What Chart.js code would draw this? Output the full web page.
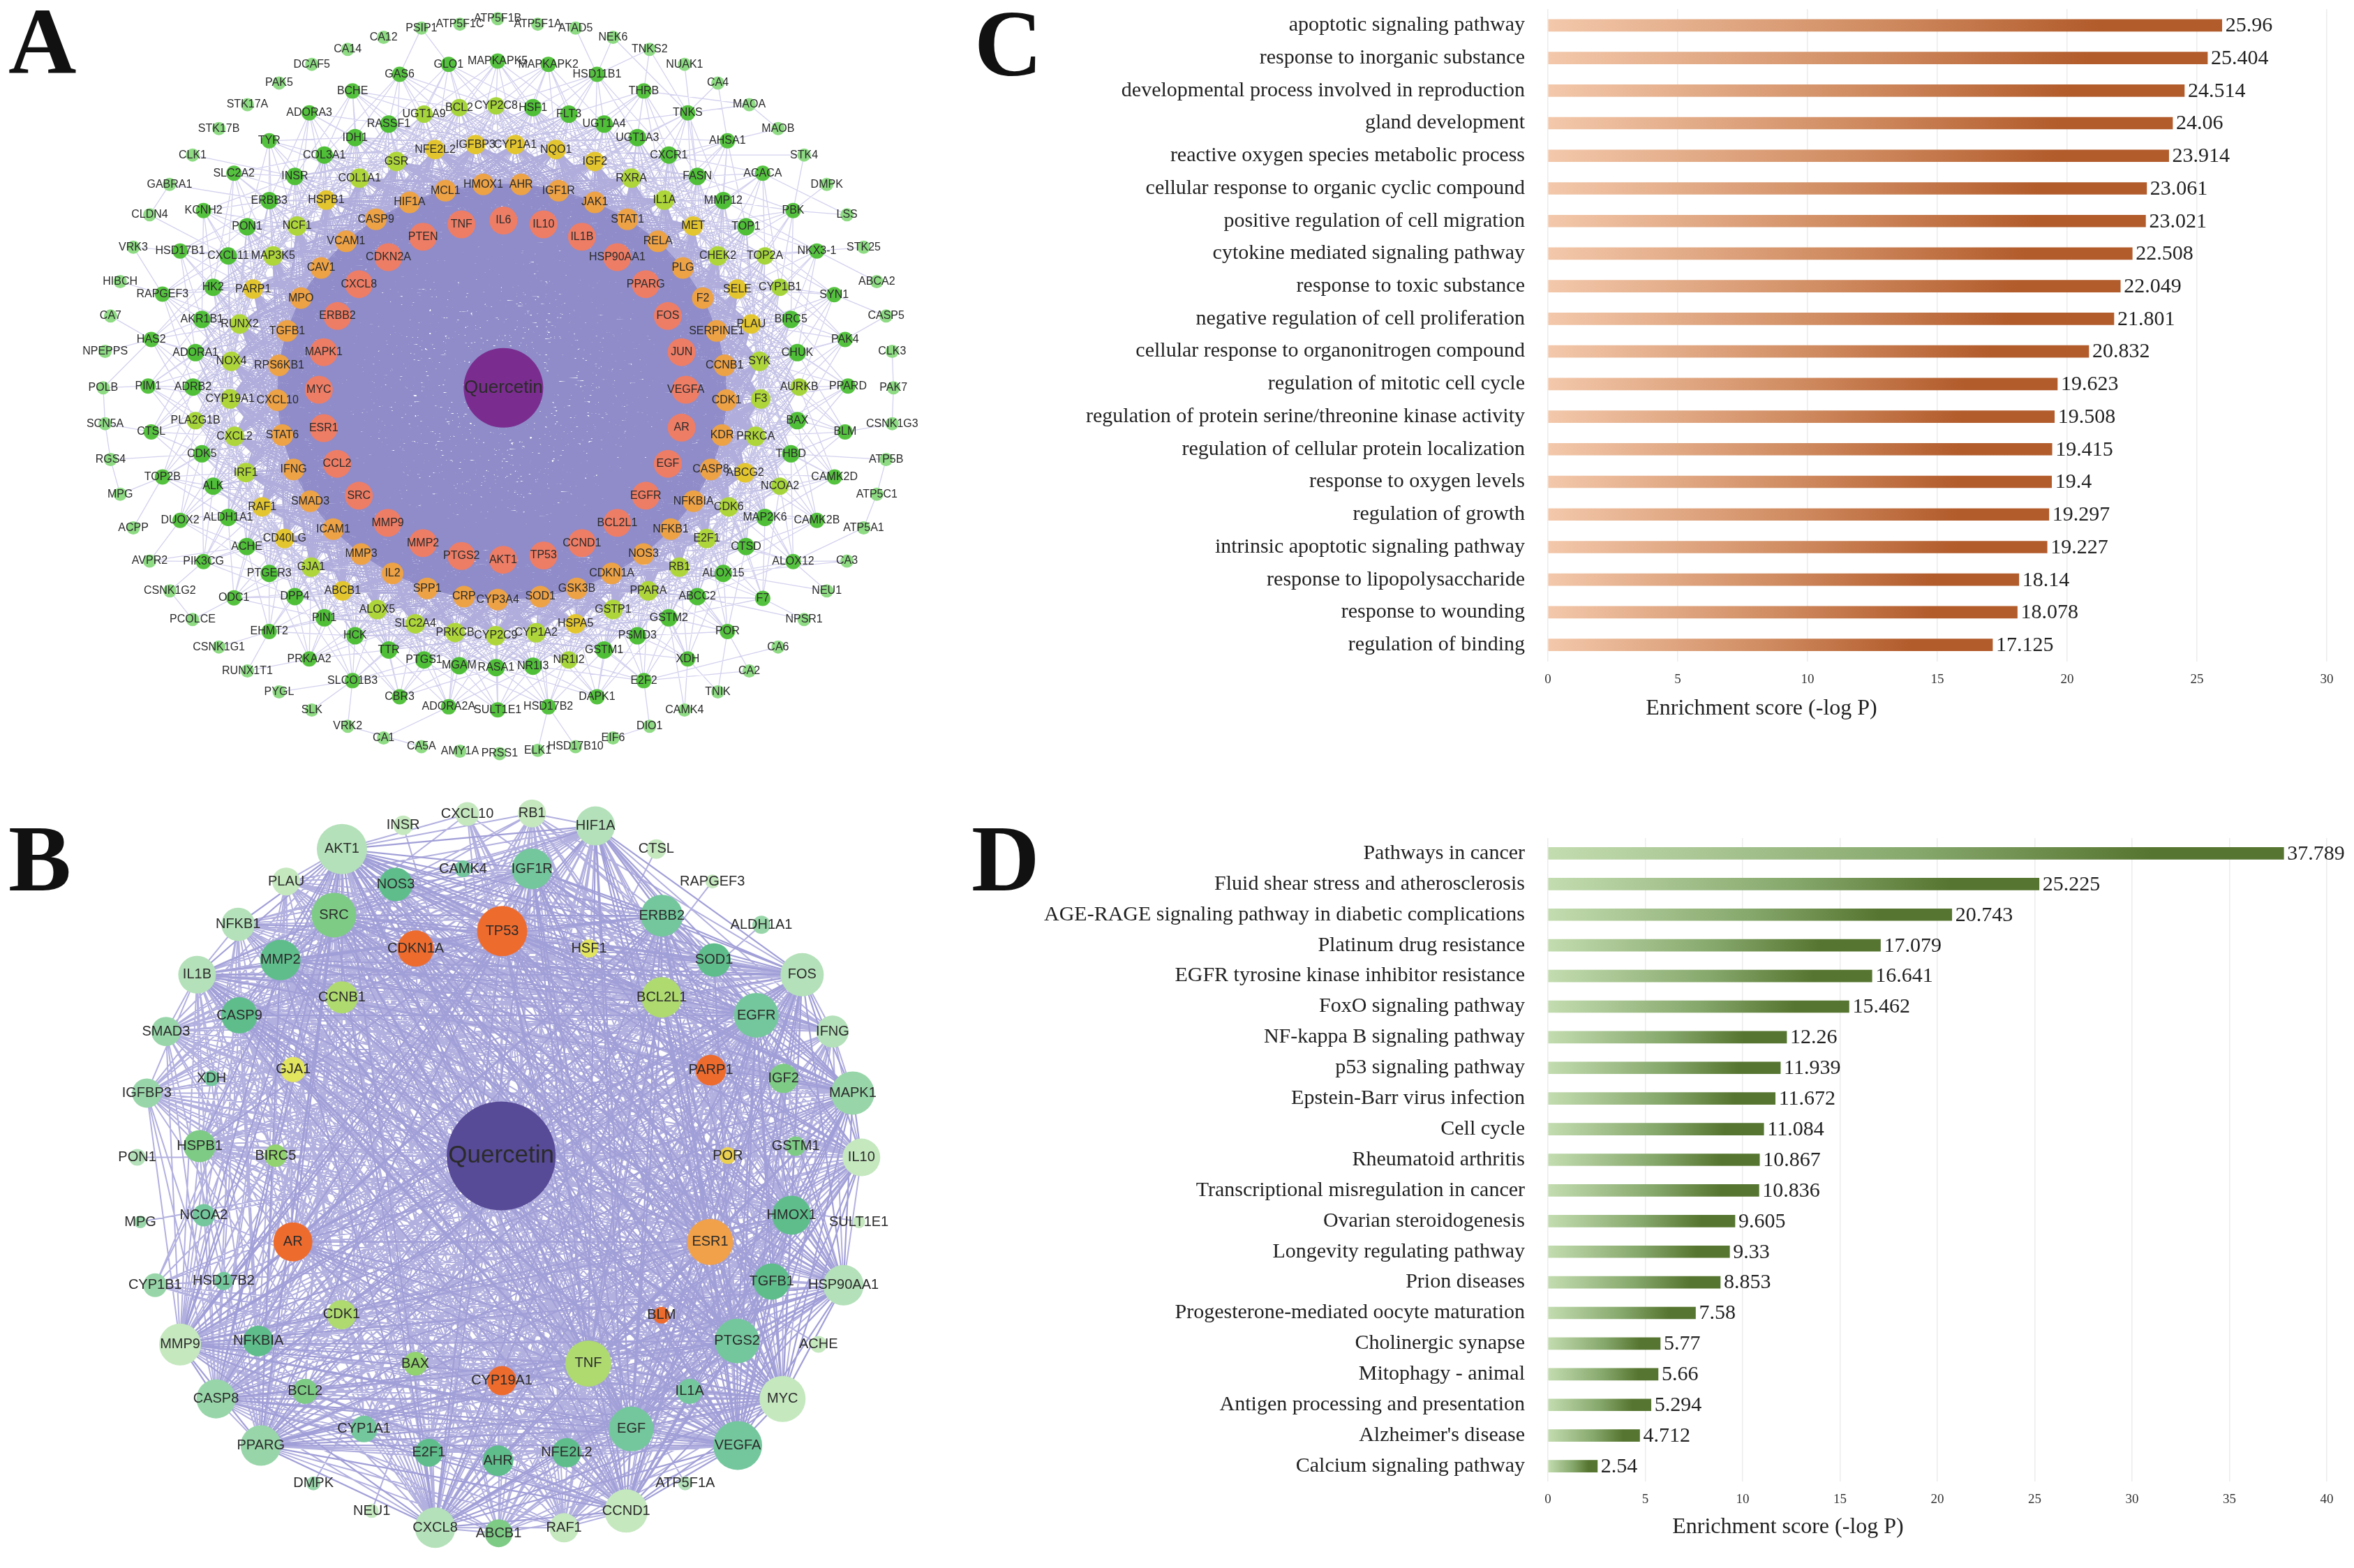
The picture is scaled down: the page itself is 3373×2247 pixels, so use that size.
<!DOCTYPE html>
<html>
<head>
<meta charset="utf-8">
<title>Quercetin network and enrichment</title>
<script src="https://cdn.jsdelivr.net/npm/chart.js@4"></script>
<style>
  html, body { margin: 0; background: #fff; }
  #page { position: relative; width: 3373px; height: 2247px; overflow: hidden; background: #fff; }
  canvas { position: absolute; filter: blur(0.7px); }
  .tag { position: absolute; font: bold 135px/1 "Liberation Serif", serif; color: #111; z-index: 5; }
</style>
</head>
<body>
<div id="page">
  <canvas id="netA" width="1440" height="1120" style="left:0;top:0"></canvas>
  <canvas id="netB" width="1440" height="1117" style="left:0;top:1130px"></canvas>
  <canvas id="barC" width="1993" height="1060" style="left:1380px;top:0"></canvas>
  <canvas id="barD" width="1993" height="1087" style="left:1380px;top:1160px"></canvas>
  <div class="tag" style="left:12px;top:-8px">A</div>
  <div class="tag" style="left:12px;top:1163px">B</div>
  <div class="tag" style="left:1396px;top:-5px">C</div>
  <div class="tag" style="left:1392px;top:1163px">D</div>
</div>
<script>
// network A, one list per ring: [gene, layout x, layout y]
const aPale = [['PSIP1',1315,113],['ATP5F1C',1435,97],['ATP5F1B',1553,75],['CA12',1197,150],['CA14',1085,198],['DCAF5',973,258],['PAK5',871,333],['STK17A',772,420],['STK17B',683,516],['CLK1',601,622],['GABRA1',529,740],['CLDN4',467,862],['VRK3',416,992],['HIBCH',375,1130],['CA7',345,1268],['NPEPPS',328,1410],['POLB',322,1556],['SCN5A',328,1700],['RGS4',345,1844],['MPG',375,1983],['ACPP',416,2118],['AVPR2',467,2251],['CSNK1G2',530,2371],['PCOLCE',601,2486],['CSNK1G1',683,2596],['RUNX1T1',772,2692],['PYGL',871,2776],['SLK',973,2849],['VRK2',1085,2914],['CA1',1197,2961],['CA5A',1315,2996],['AMY1A',1435,3014],['PRSS1',1559,3024],['ELK1',1678,3011],['HSD17B10',1796,2996],['EIF6',1913,2961],['DIO1',2027,2914],['CAMK4',2136,2849],['TNIK',2240,2776],['CA2',2338,2692],['CA6',2428,2596],['NPSR1',2509,2486],['NEU1',2580,2371],['CA3',2643,2251],['ATP5A1',2695,2118],['ATP5C1',2736,1983],['ATP5B',2765,1844],['CSNK1G3',2784,1700],['PAK7',2788,1556],['CLK3',2784,1410],['CASP5',2765,1268],['ABCA2',2736,1130],['STK25',2695,992],['LSS',2643,862],['DMPK',2580,740],['STK4',2509,622],['MAOB',2428,516],['MAOA',2338,420],['CA4',2240,333],['NUAK1',2136,258],['TNKS2',2027,198],['NEK6',1913,150],['ATAD5',1796,113],['ATP5F1A',1678,97]];
const aOuter = [['GLO1',1400,258],['MAPKAPK5',1553,245],['GAS6',1247,298],['BCHE',1100,365],['ADORA3',965,453],['TYR',840,565],['SLC2A2',730,695],['KCNH2',635,845],['HSD17B1',562,1007],['RAPGEF3',507,1180],['HAS2',472,1362],['PIM1',462,1549],['CTSL',472,1733],['TOP2B',507,1914],['DUOX2',562,2088],['PIK3CG',635,2253],['ODC1',730,2399],['EHMT2',840,2534],['PRKAA2',965,2644],['SLCO1B3',1100,2731],['CBR3',1247,2796],['ADORA2A',1400,2836],['SULT1E1',1553,2848],['HSD17B2',1711,2836],['DAPK1',1863,2796],['E2F2',2009,2731],['XDH',2146,2644],['POR',2270,2534],['F7',2380,2401],['ALOX12',2475,2253],['CAMK2B',2549,2088],['CAMK2D',2604,1914],['BLM',2637,1733],['PPARD',2646,1549],['PAK4',2637,1362],['SYN1',2603,1182],['NKX3-1',2549,1007],['PBK',2475,845],['ACACA',2380,695],['AHSA1',2270,565],['TNKS',2146,453],['THRB',2009,365],['HSD11B1',1863,298],['MAPKAPK2',1711,258]];
const aGreen = [['RASSF1',1213,498],['IDH1',1108,552],['COL3A1',1012,622],['INSR',920,708],['ERBB3',840,805],['PON1',771,910],['CXCL11',712,1027],['HK2',665,1153],['AKR1B1',630,1282],['ADORA1',610,1415],['ADRB2',602,1553],['CDK5',630,1821],['ALK',665,1951],['ALDH1A1',712,2076],['ACHE',770,2193],['PTGER3',840,2301],['DPP4',920,2394],['PIN1',1012,2479],['HCK',1108,2551],['TTR',1213,2608],['PTGS1',1323,2648],['MGAM',1433,2671],['RASA1',1548,2679],['NR1I3',1663,2673],['GSTM1',1885,2608],['PSMD3',1989,2551],['GSTM2',2087,2479],['ABCC2',2176,2394],['ALOX15',2257,2301],['CTSD',2328,2193],['MAP2K6',2387,2076],['THBD',2468,1821],['BAX',2488,1688],['CHUK',2488,1415],['BIRC5',2468,1282],['TOP1',2328,910],['MMP12',2257,805],['FASN',2176,708],['CXCR1',2087,622],['UGT1A3',1989,552],['UGT1A4',1885,498],['FLT3',1775,458],['HSF1',1663,432]];
const aLimeOuter = [['BCL2',1433,432],['CYP2C8',1548,425],['UGT1A9',1323,458],['PLA2G1B',610,1688],['NR1I2',1775,2648],['NCOA2',2434,1951],['AURKB',2494,1553],['CYP1B1',2434,1153],['TOP2A',2387,1027]];
const aLime = [['GSR',1237,648],['COL1A1',1122,715],['NCF1',927,907],['MAP3K5',852,1027],['RUNX2',748,1300],['NOX4',722,1450],['CYP19A1',718,1601],['CXCL2',732,1751],['IRF1',767,1896],['GJA1',971,2276],['ALOX5',1177,2446],['SLC2A4',1296,2503],['PRKCB',1420,2538],['CYP2C9',1547,2551],['CYP1A2',1673,2539],['GSTP1',1913,2446],['PPARA',2023,2371],['RB1',2120,2276],['E2F1',2205,2161],['CDK6',2274,2034],['PRKCA',2358,1751],['F3',2374,1601],['SYK',2370,1450],['CHEK2',2240,1027],['IL1A',2073,803],['RXRA',1970,715]];
const aYellow = [['IGFBP3',1484,580],['NFE2L2',1358,600],['HSPB1',1018,803],['PARP1',790,1160],['RAF1',818,2034],['CD40LG',888,2161],['ABCB1',1069,2371],['HSPA5',1796,2503],['ABCG2',2325,1897],['PLAU',2344,1300],['SELE',2301,1160],['MET',2163,907],['IGF2',1856,648],['NQO1',1735,600],['CYP1A1',1608,580]];
const aOrange = [['HMOX1',1508,740],['MCL1',1390,765],['HIF1A',1278,812],['CASP9',1173,880],['VCAM1',1080,968],['CAV1',1002,1075],['MPO',939,1196],['TGFB1',896,1328],['RPS6KB1',871,1466],['CXCL10',866,1606],['STAT6',881,1746],['IFNG',916,1884],['SMAD3',968,2011],['ICAM1',1040,2123],['MMP3',1127,2223],['IL2',1225,2301],['SPP1',1333,2361],['CRP',1448,2394],['CYP3A4',1553,2406],['SOD1',1686,2394],['GSK3B',1800,2361],['CDKN1A',1909,2301],['NOS3',2008,2223],['NFKB1',2093,2123],['NFKBIA',2164,2011],['CASP8',2218,1884],['KDR',2253,1746],['CDK1',2267,1606],['CCNB1',2261,1466],['SERPINE1',2236,1328],['F2',2193,1196],['PLG',2131,1075],['RELA',2053,968],['STAT1',1958,880],['JAK1',1856,812],['IGF1R',1743,765],['AHR',1626,740]];
const aRed = [['TNF',1440,900],['IL6',1571,885],['PTEN',1320,950],['CDKN2A',1212,1032],['CXCL8',1120,1140],['ERBB2',1053,1268],['MAPK1',1010,1413],['MYC',995,1564],['ESR1',1010,1718],['CCL2',1052,1861],['SRC',1120,1989],['MMP9',1210,2098],['MMP2',1320,2179],['PTGS2',1440,2231],['AKT1',1570,2246],['TP53',1696,2229],['CCND1',1816,2179],['BCL2L1',1926,2098],['EGFR',2015,1989],['EGF',2084,1861],['AR',2127,1716],['VEGFA',2140,1564],['JUN',2127,1413],['FOS',2084,1268],['PPARG',2015,1140],['HSP90AA1',1926,1032],['IL1B',1816,950],['IL10',1696,900]];
const aHub = [['Quercetin',1571,1556]];
// the few links that can be followed by eye around the outer ring
const aPaleLinks = [['PSIP1','GAS6'],['PSIP1','GLO1'],['ATAD5','HSD11B1'],['NEK6','HSD11B1'],['TNKS2','HSD11B1'],['TNKS2','THRB'],['TNKS2','TNKS'],['NEK6','TNKS'],['NUAK1','FASN'],['CA4','TNKS'],['CA4','AHSA1'],['MAOA','THRB'],['MAOA','TNKS'],['MAOB','AHSA1'],['MAOB','MAOA'],['STK4','CXCR1'],['STK4','PBK'],['DMPK','PBK'],['LSS','ACACA'],['LSS','PBK'],['STK25','NKX3-1'],['ABCA2','NKX3-1'],['CASP5','SYN1'],['CASP5','PAK4'],['CLK3','PAK7'],['PAK7','CSNK1G3'],['CSNK1G3','BLM'],['ATP5B','THBD'],['ATP5B','ATP5C1'],['ATP5C1','ATP5A1'],['ATP5A1','ALOX12'],['CA3','ALOX12'],['CA3','ALOX15'],['NEU1','ALOX12'],['NEU1','ALOX15'],['NPSR1','ABCC2'],['NPSR1','F7'],['CA6','E2F2'],['CA2','POR'],['CA2','E2F2'],['TNIK','POR'],['TNIK','XDH'],['CAMK4','GSTM2'],['CAMK4','XDH'],['DIO1','E2F2'],['DIO1','EIF6'],['HSD17B10','HSD17B2'],['ELK1','HSD17B2'],['VRK2','SLCO1B3'],['SLK','SLCO1B3'],['PYGL','SLCO1B3'],['CA1','ADORA2A'],['CA5A','VRK2'],['CSNK1G1','EHMT2'],['RUNX1T1','EHMT2'],['RUNX1T1','PRKAA2'],['PCOLCE','ODC1'],['PCOLCE','CSNK1G2'],['CSNK1G2','PIK3CG'],['AVPR2','PIK3CG'],['AVPR2','ACHE'],['AVPR2','DUOX2'],['ACPP','TOP2B'],['MPG','RGS4'],['MPG','TOP2B'],['RGS4','SCN5A'],['RGS4','CDK5'],['SCN5A','POLB'],['SCN5A','CTSL'],['POLB','PIM1'],['POLB','HAS2'],['NPEPPS','HAS2'],['CA7','HAS2'],['HIBCH','RAPGEF3'],['VRK3','HSD17B1'],['VRK3','RAPGEF3'],['CLDN4','GABRA1'],['CLDN4','CXCL11'],['GABRA1','ERBB3'],['CLK1','INSR']];

// network B, one list per colour: [gene, layout x, layout y, degree]
const bOrange = [['CDKN1A',1297,642,26],['TP53',1567,572,36],['PARP1',2218,1130,22],['AR',914,1819,28],['BLM',2064,2113,12],['CYP19A1',1566,2376,21]];
const bAmber = [['ESR1',2216,1819,33]];
const bYellow = [['GJA1',915,1128,18],['HSF1',1838,642,13]];
const bGold = [['POR',2271,1473,12]];
const bLime = [['CCNB1',1067,838,23],['BCL2L1',2065,838,29],['CDK1',1066,2111,21],['TNF',1836,2307,33]];
const bLeaf = [['BIRC5',860,1473,16],['BAX',1296,2308,17]];
const bTeal = [['MMP2',875,688,29],['CASP9',747,910,26],['SOD1',2228,688,24],['HMOX1',2470,1712,28],['TGFB1',2408,1978,26],['NFKBIA',806,2217,22],['AHR',1554,2697,22],['E2F1',1338,2665,20],['NFE2L2',1768,2665,21],['NOS3',1235,385,24]];
const bSea = [['IGF1R',1660,322,29],['ERBB2',2065,510,30],['EGFR',2360,910,32],['EGF',1970,2570,32],['VEGFA',2302,2636,35],['PTGS2',2300,2217,32],['CAMK4',1445,322,12],['XDH',660,1163,11],['IL1A',2152,2419,18],['NCOA2',636,1712,16],['CYP1A1',1136,2570,19],['HSD17B2',698,1976,13]];
const bGreen = [['SRC',1042,508,32],['HSPB1',623,1435,23],['IGF2',2445,1163,21],['BCL2',952,2419,18],['GSTM1',2483,1435,14],['ABCB1',1556,2988,20]];
const bMint = [['SMAD3',518,975,21],['IGFBP3',458,1222,21],['MAPK1',2661,1222,31],['CASP8',674,2449,28],['PPARG',814,2636,29],['CYP1B1',484,1993,17],['ALDH1A1',2376,547,13],['MPG',438,1739,9],['DMPK',978,2788,10]];
const bPale = [['AKT1',1067,243,36],['NFKB1',743,545,24],['IL1B',615,747,27],['HIF1A',1858,150,28],['FOS',2503,747,31],['IFNG',2598,975,23],['CXCL8',1358,2966,29],['HSP90AA1',2632,1993,29],['ATP5F1A',2138,2788,10],['PON1',428,1480,12]];
const bFaint = [['INSR',1258,148,14],['CXCL10',1458,102,17],['PLAU',893,373,20],['RB1',1660,100,20],['CTSL',2048,243,14],['RAPGEF3',2223,373,10],['IL10',2688,1480,27],['MMP9',562,2231,30],['MYC',2442,2449,33],['CCND1',1954,2899,31],['RAF1',1760,2966,21],['SULT1E1',2680,1739,9],['ACHE',2554,2230,12],['NEU1',1160,2899,10]];
const bHub = [['Quercetin',1564,1474,78]];

// panel C
const cTerms = ['apoptotic signaling pathway','response to inorganic substance','developmental process involved in reproduction','gland development','reactive oxygen species metabolic process','cellular response to organic cyclic compound','positive regulation of cell migration','cytokine mediated signaling pathway','response to toxic substance','negative regulation of cell proliferation','cellular response to organonitrogen compound','regulation of mitotic cell cycle','regulation of protein serine/threonine kinase activity','regulation of cellular protein localization','response to oxygen levels','regulation of growth','intrinsic apoptotic signaling pathway','response to lipopolysaccharide','response to wounding','regulation of binding'];
const cScores = [25.96,25.404,24.514,24.06,23.914,23.061,23.021,22.508,22.049,21.801,20.832,19.623,19.508,19.415,19.4,19.297,19.227,18.14,18.078,17.125];

// panel D
const dTerms = ['Pathways in cancer','Fluid shear stress and atherosclerosis','AGE-RAGE signaling pathway in diabetic complications','Platinum drug resistance','EGFR tyrosine kinase inhibitor resistance','FoxO signaling pathway','NF-kappa B signaling pathway','p53 signaling pathway','Epstein-Barr virus infection','Cell cycle','Rheumatoid arthritis','Transcriptional misregulation in cancer','Ovarian steroidogenesis','Longevity regulating pathway','Prion diseases','Progesterone-mediated oocyte maturation','Cholinergic synapse','Mitophagy - animal','Antigen processing and presentation',"Alzheimer's disease",'Calcium signaling pathway'];
const dScores = [37.789,25.225,20.743,17.079,16.641,15.462,12.26,11.939,11.672,11.084,10.867,10.836,9.605,9.33,8.853,7.58,5.77,5.66,5.294,4.712,2.54];

const axisTitle = 'Enrichment score (-log P)';

// layout units are 2.178 per px across and 2.8 per px down
const UX = 2.178, UY = 2.8;

const labelPlugin = {
  id: 'nodeLabels',
  afterDatasetsDraw(chart) {
    const ctx = chart.ctx;
    ctx.save();
    ctx.textAlign = 'center';
    ctx.textBaseline = 'middle';
    chart.data.datasets.forEach((ds, i) => {
      if (!ds.labels) return;
      ctx.font = ds.labelFont;
      ctx.fillStyle = ds.labelColor || '#2b2b2b';
      chart.getDatasetMeta(i).data.forEach((el, j) => ctx.fillText(ds.labels[j], el.x, el.y));
    });
    ctx.restore();
  }
};

function edgeData(pairs) {
  const out = [];
  pairs.forEach(p => { out.push({x: p[0].x, y: p[0].y}, {x: p[1].x, y: p[1].y}, {x: NaN, y: NaN}); });
  return out;
}

function edgeSet(pairs, color, width, order) {
  return {type: 'line', data: edgeData(pairs), borderColor: color, borderWidth: width, pointRadius: 0, tension: 0, spanGaps: false, order: order, clip: false};
}

function nodeSet(nodes, color, order, font) {
  return {
    type: 'bubble', data: nodes.map(n => ({x: n.x, y: n.y, r: n.r})), labels: nodes.map(n => n.name),
    backgroundColor: color, borderWidth: 0, order: order, clip: false, labelFont: font
  };
}

function networkChart(id, yMax, datasets) {
  const c = document.getElementById(id);
  return new Chart(c, {
    data: {datasets: datasets},
    plugins: [labelPlugin],
    options: {
      responsive: false, animation: false, events: [],
      layout: {padding: 0, autoPadding: false},
      plugins: {legend: {display: false}, tooltip: {enabled: false}},
      scales: {
        x: {type: 'linear', min: 0, max: 3136, display: false},
        y: {type: 'linear', min: 0, max: yMax, reverse: true, display: false}
      }
    }
  });
}

function toNodes(rows, tier, r) {
  return rows.map(row => ({name: row[0], x: row[1], y: row[2], tier: tier, r: r === undefined ? row[3] : r}));
}

// ---- network A ----
const aGroups = {
  pale: toNodes(aPale, 0, 9.5), outer: toNodes(aOuter, 1, 11), green: toNodes(aGreen, 2, 12.5),
  limeOuter: toNodes(aLimeOuter, 2, 12.5), lime: toNodes(aLime, 3, 14), yellow: toNodes(aYellow, 3, 14),
  orange: toNodes(aOrange, 4, 15.5), red: toNodes(aRed, 5, 20), hub: toNodes(aHub, 6, 57)
};
const aAll = Object.values(aGroups).flat();
const aByName = {};
aAll.forEach(n => { aByName[n.name] = n; });

function pxDist(a, b) {
  return Math.hypot((a.x - b.x) / UX, (a.y - b.y) / UY);
}

// individual links cannot be read from the solid core, so each node is tied to
// its closest better-connected neighbours (colour ring = degree class)
function nearestLinks(nodes, k) {
  const out = [];
  nodes.forEach(n => {
    aAll.filter(m => m.tier > n.tier && m.tier < 6)
      .sort((p, q) => pxDist(n, p) - pxDist(n, q))
      .slice(0, k)
      .forEach(m => out.push([n, m]));
  });
  return out;
}

const aCore = aGroups.red.concat(aGroups.orange, aGroups.hub);
const aCorePairs = [];
aCore.forEach((n, i) => { for (let j = i + 1; j < aCore.length; j++) aCorePairs.push([n, aCore[j]]); });

const aOuterPairs = aPaleLinks.map(p => [aByName[p[0]], aByName[p[1]]]).concat(nearestLinks(aGroups.outer, 9));
const aMidPairs = nearestLinks(aGroups.green.concat(aGroups.limeOuter), 22);
const aInnerPairs = nearestLinks(aGroups.lime.concat(aGroups.yellow), 44);

const SANS = '"Liberation Sans", Arial, sans-serif';
const aFont = '16px ' + SANS;
networkChart('netA', 3136, [
  nodeSet(aGroups.hub, '#7a2d8f', 1, '26px ' + SANS),
  nodeSet(aGroups.red, '#ee7d66', 2, aFont),
  nodeSet(aGroups.orange, '#eda246', 2, aFont),
  nodeSet(aGroups.yellow, '#e3c62f', 2, aFont),
  nodeSet(aGroups.lime, '#aed63a', 2, aFont),
  nodeSet(aGroups.limeOuter, '#a5d53a', 2, aFont),
  nodeSet(aGroups.green, '#4fbf38', 2, aFont),
  nodeSet(aGroups.outer, '#55c23f', 2, aFont),
  nodeSet(aGroups.pale, '#8edb84', 2, aFont),
  edgeSet(aCorePairs, '#8f8cc9', 1.8, 5),
  edgeSet(aInnerPairs, '#b0addc', 1.3, 6),
  edgeSet(aMidPairs, '#c6c4e7', 1.2, 7),
  edgeSet(aOuterPairs, '#d3d1ee', 1.3, 8)
]);

// ---- network B ----
const bGroups = [[bOrange, '#ee6b2e'], [bAmber, '#f0a14a'], [bYellow, '#e2e55e'], [bGold, '#ecd04f'], [bLime, '#aeda70'], [bLeaf, '#92d26f'], [bTeal, '#5fbd8c'], [bSea, '#74c79d'], [bGreen, '#7ecb86'], [bMint, '#98d6a9'], [bPale, '#b4e1b9'], [bFaint, '#c5e8bf']];
const bNodes = bGroups.map(g => toNodes(g[0], 1));
const bAll = bNodes.flat();
const bHubNodes = toNodes(bHub, 2);
const bFont = '20px ' + SANS;

// node size stands for degree here, so two nodes are linked when their degrees are both large enough
const bPairs = [];
const bStrongPairs = [];
bAll.forEach((n, i) => {
  for (let j = i + 1; j < bAll.length; j++) {
    const w = n.r * bAll[j].r;
    if (w > 820) bStrongPairs.push([n, bAll[j]]);
    else if (w > 540) bPairs.push([n, bAll[j]]);
  }
  bPairs.push([n, bHubNodes[0]]);
});

networkChart('netB', 3127.6, [
  nodeSet(bHubNodes, '#574a97', 1, '35px ' + SANS),
  ...bNodes.map((nodes, i) => nodeSet(nodes, bGroups[i][1], 2, bFont)),
  edgeSet(bStrongPairs, '#a19fd7', 2.2, 5),
  edgeSet(bPairs, '#b2b0df', 2, 6)
]);

// ---- enrichment bars ----
const SERIF = '"Liberation Serif", "Times New Roman", serif';

function barChart(id, terms, scores, xMax, opt) {
  const c = document.getElementById(id);
  const endLabels = {
    id: 'endLabels',
    afterDraw(chart) {
      const ctx = chart.ctx;
      ctx.save();
      ctx.fillStyle = '#222';
      ctx.textBaseline = 'middle';
      ctx.font = '30px ' + SERIF;
      chart.getDatasetMeta(0).data.forEach((el, i) => ctx.fillText(String(scores[i]), el.x + 5, el.y + 1));
      ctx.textAlign = 'center';
      ctx.font = '32px ' + SERIF;
      ctx.fillText(axisTitle, opt.titleX, opt.titleY);
      ctx.restore();
    }
  };
  return new Chart(c, {
    type: 'bar',
    data: {
      labels: terms,
      datasets: [{
        data: scores,
        barThickness: 17,
        backgroundColor(ctx) {
          const xs = ctx.chart.scales.x;
          const x0 = xs ? xs.getPixelForValue(0) : NaN;
          const x1 = xs && ctx.type === 'data' ? xs.getPixelForValue(ctx.raw) : NaN;
          if (!isFinite(x0) || !isFinite(x1)) return opt.stops[2];
          const g = ctx.chart.ctx.createLinearGradient(x0, 0, x1, 0);
          g.addColorStop(0, opt.stops[0]);
          g.addColorStop(0.5, opt.stops[1]);
          g.addColorStop(0.82, opt.stops[2]);
          g.addColorStop(1, opt.stops[2]);
          return g;
        }
      }]
    },
    plugins: [endLabels],
    options: {
      indexAxis: 'y', responsive: false, animation: false, events: [],
      layout: {padding: {top: opt.top, right: 39, left: 0, bottom: 0}},
      plugins: {legend: {display: false}, tooltip: {enabled: false}},
      scales: {
        y: {
          // keep the plot box where the reference has it; label overhang must not push it
          afterFit(s) { s.width = 838; s.paddingTop = 0; s.paddingBottom = 0; },
          grid: {display: false, drawTicks: false},
          border: {display: false},
          ticks: {autoSkip: false, padding: 33, color: '#222', font: {family: SERIF, size: 30}}
        },
        x: {
          min: 0, max: xMax,
          afterFit(s) { s.height = opt.axisH; },
          grid: {color: '#ececec', lineWidth: 1.5, drawTicks: false},
          border: {display: false},
          ticks: {stepSize: 5, padding: 15, maxRotation: 0, color: '#333', font: {family: SERIF, size: 19}}
        }
      }
    }
  });
}

barChart('barC', cTerms, cScores, 30, {top: 13, axisH: 112.5, titleX: 1144, titleY: 1016, stops: ['#f3c8ab', '#cf8a5f', '#b25b2b']});
barChart('barD', dTerms, dScores, 40, {top: 41, axisH: 124, titleX: 1182, titleY: 1029, stops: ['#c3dcb0', '#86a86c', '#567530']});
</script>
</body>
</html>
